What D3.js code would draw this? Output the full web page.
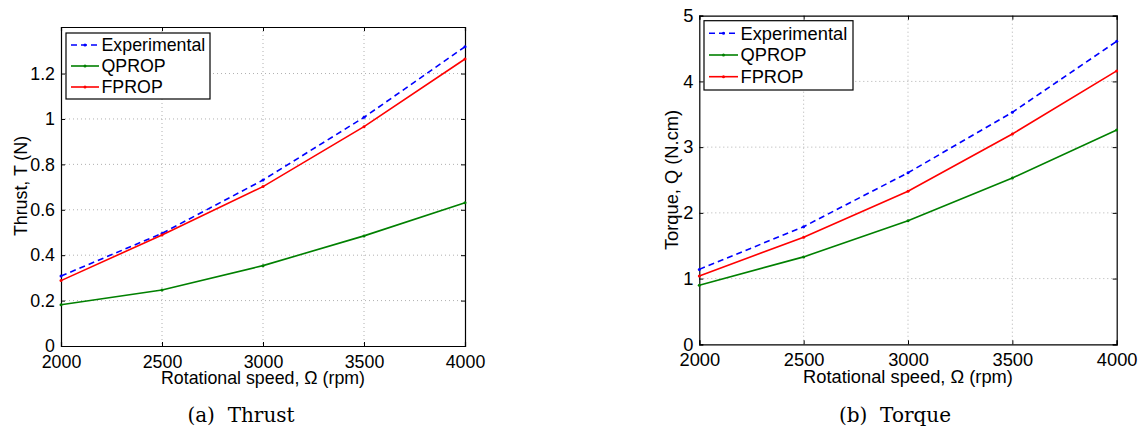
<!DOCTYPE html>
<html><head><meta charset="utf-8">
<script src="https://cdn.jsdelivr.net/npm/d3@7"></script>
<style>
html,body{margin:0;padding:0;background:#fff;}
svg{display:block;}
</style></head>
<body>
<svg id="chart" width="1144" height="430"></svg>
<script>
const rpm = [2000, 2500, 3000, 3500, 4000];
const xTicks = [2000, 2500, 3000, 3500, 4000];
const seriesNames = ["Experimental", "QPROP", "FPROP"];
const thrustExp   = [0.308, 0.496, 0.731, 1.007, 1.318];
const thrustQprop = [0.182, 0.247, 0.354, 0.485, 0.631];
const thrustFprop = [0.288, 0.489, 0.702, 0.966, 1.264];
const torqueExp   = [1.14, 1.79, 2.61, 3.53, 4.61];
const torqueQprop = [0.90, 1.33, 1.88, 2.53, 3.26];
const torqueFprop = [1.04, 1.63, 2.33, 3.20, 4.16];
const thrustTicks = [0, 0.2, 0.4, 0.6, 0.8, 1, 1.2];
const torqueTicks = [0, 1, 2, 3, 4, 5];

const svg = d3.select("#chart");
const colors = ["#0000ff", "#008000", "#ff0000"];
const dashes = ["6,4", null, null];
const SANS = "Liberation Sans, Arial, sans-serif";

function panel(cfg) {
  const g = svg.append("g");
  const x = d3.scaleLinear().domain([2000, 4000]).range([cfg.left, cfg.right]);
  const y = d3.scaleLinear().domain(cfg.ydom).range([cfg.bottom, cfg.top]);
  const fs = cfg.fs;
  // grid
  g.selectAll(".gx").data(xTicks.slice(1, -1)).enter().append("line")
    .attr("x1", d => x(d)).attr("x2", d => x(d)).attr("y1", cfg.top).attr("y2", cfg.bottom)
    .attr("stroke", "#b0b0b0").attr("stroke-width", 1).attr("stroke-dasharray", "1,3");
  g.selectAll(".gy").data(cfg.yticks.filter(d => d > cfg.ydom[0] && d < cfg.ydom[1])).enter().append("line")
    .attr("y1", d => y(d)).attr("y2", d => y(d)).attr("x1", cfg.left).attr("x2", cfg.right)
    .attr("stroke", "#b0b0b0").attr("stroke-width", 1).attr("stroke-dasharray", "1,3");
  // axes with inward ticks
  const ax = g.append("g").attr("transform", `translate(0,${cfg.bottom})`)
    .call(d3.axisBottom(x).tickValues(xTicks).tickSize(-4).tickPadding(9).tickFormat(d3.format("d")));
  const axT = g.append("g").attr("transform", `translate(0,${cfg.top})`)
    .call(d3.axisTop(x).tickValues(xTicks).tickSize(-4).tickFormat(""));
  const ay = g.append("g").attr("transform", `translate(${cfg.left},0)`)
    .call(d3.axisLeft(y).tickValues(cfg.yticks).tickSize(-4).tickPadding(6).tickFormat(d => String(+d.toFixed(1))));
  const ayR = g.append("g").attr("transform", `translate(${cfg.right},0)`)
    .call(d3.axisRight(y).tickValues(cfg.yticks).tickSize(-4).tickFormat(""));
  [ax, axT, ay, ayR].forEach(a => {
    a.selectAll("path").attr("stroke", "#000").attr("stroke-width", 1.2);
    a.selectAll("line").attr("stroke", "#000");
    a.selectAll("text").attr("fill", "#000").style("font-family", SANS).style("font-size", fs + "px");
  });
  ax.selectAll("text").attr("dy", "0.71em");
  // lines
  const line = d3.line().x((d, i) => x(rpm[i])).y(d => y(d));
  cfg.series.forEach((s, k) => {
    g.append("path").datum(s).attr("d", line).attr("fill", "none")
      .attr("stroke", colors[k]).attr("stroke-width", 1.6)
      .attr("stroke-dasharray", dashes[k]);
    g.selectAll(".m" + k).data(s).enter().append("circle")
      .attr("cx", (d, i) => x(rpm[i])).attr("cy", d => y(d)).attr("r", 1.5)
      .attr("fill", colors[k]);
  });
  // labels
  g.append("text").attr("x", (cfg.left + cfg.right) / 2).attr("y", cfg.xlabY)
    .attr("text-anchor", "middle").style("font-family", SANS)
    .style("font-size", fs + "px").text("Rotational speed, Ω (rpm)");
  g.append("text").attr("transform", `translate(${cfg.ylabX},${cfg.ylabCY}) rotate(-90)`)
    .attr("text-anchor", "middle").style("font-family", SANS)
    .style("font-size", fs + "px").text(cfg.ylabel);
  g.append("text").attr("x", cfg.capX).attr("y", 422).attr("text-anchor", "middle")
    .style("font-family", "DejaVu Serif, Liberation Serif, serif").style("font-size", "20px")
    .attr("xml:space", "preserve").text(cfg.caption);
  // legend
  const L = cfg.leg;
  g.append("rect").attr("x", L.x).attr("y", L.y).attr("width", L.w).attr("height", L.h)
    .attr("fill", "#fff").attr("stroke", "#000").attr("stroke-width", 1.2);
  seriesNames.forEach((n, k) => {
    const yy = L.y + L.row0 + k * L.dy;
    g.append("line").attr("x1", L.x + 5).attr("x2", L.x + L.lineW).attr("y1", yy).attr("y2", yy)
      .attr("stroke", colors[k]).attr("stroke-width", 1.6).attr("stroke-dasharray", dashes[k]);
    g.append("circle").attr("cx", L.x + 5 + (L.lineW - 5) / 2).attr("cy", yy).attr("r", 1.5).attr("fill", colors[k]);
    g.append("text").attr("x", L.x + L.lineW + 2.5).attr("y", yy).attr("dy", "0.35em")
      .style("font-family", SANS).style("font-size", fs + "px").text(n);
  });
}

panel({left: 61, right: 465, top: 27, bottom: 346, ydom: [0, 1.405], yticks: thrustTicks,
  series: [thrustExp, thrustQprop, thrustFprop], fs: 17.8, xlabY: 384, ylabX: 27, ylabCY: 186,
  ylabel: "Thrust, T (N)", caption: "(a)  Thrust", capX: 241,
  leg: {x: 66, y: 33, w: 144, h: 66, row0: 12, dy: 21, lineW: 33}});
panel({left: 699.3, right: 1116.7, top: 15.7, bottom: 344.3, ydom: [0, 5], yticks: torqueTicks,
  series: [torqueExp, torqueQprop, torqueFprop], fs: 18.3, xlabY: 383, ylabX: 678, ylabCY: 180,
  ylabel: "Torque, Q (N.cm)", caption: "(b)  Torque", capX: 895,
  leg: {x: 704, y: 20.7, w: 149, h: 69.3, row0: 12.6, dy: 21.7, lineW: 34}});
</script>
</body></html>
